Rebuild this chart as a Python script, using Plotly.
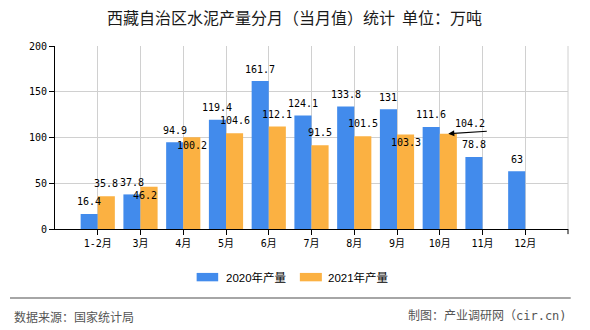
import plotly.graph_objects as go

# ---- data ----
categories = ["1-2月", "3月", "4月", "5月", "6月", "7月", "8月", "9月", "10月", "11月", "12月"]
values_2020 = [16.4, 37.8, 94.9, 119.4, 161.7, 124.1, 133.8, 131, 111.6, 78.8, 63]
values_2021 = [35.8, 46.2, 100.2, 104.6, 112.1, 91.5, 101.5, 103.3, 104.2, None, None]
series_names = ["2020年产量", "2021年产量"]
y_ticks = [0, 50, 100, 150, 200]

# ---- style ----
BLUE = "#428BEC"
ORANGE = "#FBB142"
LABEL_FONT = dict(family="DejaVu Sans Mono, Noto Sans CJK SC", size=10, color="#000000")
CJK = "Noto Sans CJK SC"
inside_2021 = {1: -4.5, 2: 0, 7: 0}   # label index -> extra xshift, placed just below bar top
arrow_2021 = 8                        # label drawn with a leader arrow

fig = go.Figure()
fig.add_trace(go.Bar(x=categories, y=values_2020, name=series_names[0],
                     marker=dict(color=BLUE, line=dict(width=0)), showlegend=False))
fig.add_trace(go.Bar(x=categories, y=values_2021, name=series_names[1],
                     marker=dict(color=ORANGE, line=dict(width=0)), showlegend=False))

ann = []
for i, v in enumerate(values_2020):
    ann.append(dict(x=i - 0.2, y=v, xref="x", yref="y", text=str(v), showarrow=False,
                    yanchor="middle", yshift=12, font=LABEL_FONT))
for i, v in enumerate(values_2021):
    if v is None:
        continue
    if i == arrow_2021:
        ann.append(dict(x=i + 0.2, y=v, xref="x", yref="y", text="", showarrow=True,
                        arrowhead=2, arrowsize=1, arrowwidth=1.2, arrowcolor="#000000",
                        ax=40, ay=-2.5))
        ann.append(dict(x=i + 0.2, y=v, xref="x", yref="y", text=str(v), showarrow=False,
                        yanchor="middle", xshift=21.7, yshift=10.3, font=LABEL_FONT))
    elif i in inside_2021:
        ann.append(dict(x=i + 0.2, y=v, xref="x", yref="y", text=str(v), showarrow=False,
                        yanchor="middle", xshift=inside_2021[i], yshift=-8.3, font=LABEL_FONT))
    else:
        ann.append(dict(x=i + 0.2, y=v, xref="x", yref="y", text=str(v), showarrow=False,
                        yanchor="middle", yshift=12.3, font=LABEL_FONT))

# custom legend
LEG_FONT = dict(family="Liberation Sans, " + CJK, size=11.5, color="#000000")
ann.append(dict(x=0.3292, y=-0.263, xref="paper", yref="paper", text=series_names[0],
                showarrow=False, xanchor="left", yanchor="middle", font=LEG_FONT))
ann.append(dict(x=0.5280, y=-0.263, xref="paper", yref="paper", text=series_names[1],
                showarrow=False, xanchor="left", yanchor="middle", font=LEG_FONT))
# footer
ann.append(dict(x=-0.0838, y=-0.4768, xref="paper", yref="paper", text="数据来源：国家统计局",
                showarrow=False, xanchor="left", yanchor="middle",
                font=dict(family=CJK, size=12, color="#555555")))
ann.append(dict(x=1.0014, y=-0.4768, xref="paper", yref="paper", text="制图：产业调研网（cir.cn)",
                showarrow=False, xanchor="right", yanchor="middle",
                font=dict(family="DejaVu Sans Mono, " + CJK, size=12, color="#555555")))

shapes = [
    dict(type="rect", xref="paper", yref="paper", x0=0.2761, x1=0.3181, y0=-0.2859, y1=-0.2400,
         fillcolor=BLUE, line=dict(width=0)),
    dict(type="rect", xref="paper", yref="paper", x0=0.4773, x1=0.5202, y0=-0.2859, y1=-0.2400,
         fillcolor=ORANGE, line=dict(width=0)),
    dict(type="line", xref="paper", yref="paper", x0=-0.0877, x1=1.0053, y0=-0.3764, y1=-0.3764,
         line=dict(color="#888888", width=1.5)),
    dict(type="line", xref="paper", yref="paper", x0=1, x1=1, y0=0, y1=1,
         line=dict(color="#d0d0d0", width=1)),
    dict(type="line", xref="paper", yref="paper", x0=1, x1=1, y0=0, y1=-0.028,
         line=dict(color="#000000", width=1)),
]

fig.update_layout(
    width=590, height=330,
    margin=dict(l=55, r=21.7, t=46, b=100.7),
    paper_bgcolor="#ffffff", plot_bgcolor="#ffffff",
    barmode="group", bargap=0.2, bargroupgap=0,
    showlegend=False,
    title=dict(text="西藏自治区水泥产量分月（当月值）统计 \u00a0单位：万吨",
               x=0.4992, y=0.944, xref="container", yref="container",
               xanchor="center", yanchor="middle",
               font=dict(family=CJK, size=16, color="#1a1a1a")),
    annotations=ann,
    shapes=shapes,
    xaxis=dict(type="category", range=[-1, 11], autorange=False,
               showline=True, linecolor="#000000", linewidth=1,
               ticks="outside", ticklen=5, tickcolor="#000000",
               showgrid=True, gridcolor="#d0d0d0", gridwidth=1,
               tickfont=dict(family="DejaVu Sans Mono, " + CJK, size=10, color="#000000")),
    yaxis=dict(range=[0, 200], autorange=False, tickvals=y_ticks,
               showline=True, linecolor="#000000", linewidth=1,
               ticks="outside", ticklen=5, tickcolor="#000000",
               showgrid=True, gridcolor="#d0d0d0", gridwidth=1, zeroline=False,
               tickfont=dict(family="DejaVu Sans Mono", size=10, color="#000000")),
)

fig.write_html("out.html")
